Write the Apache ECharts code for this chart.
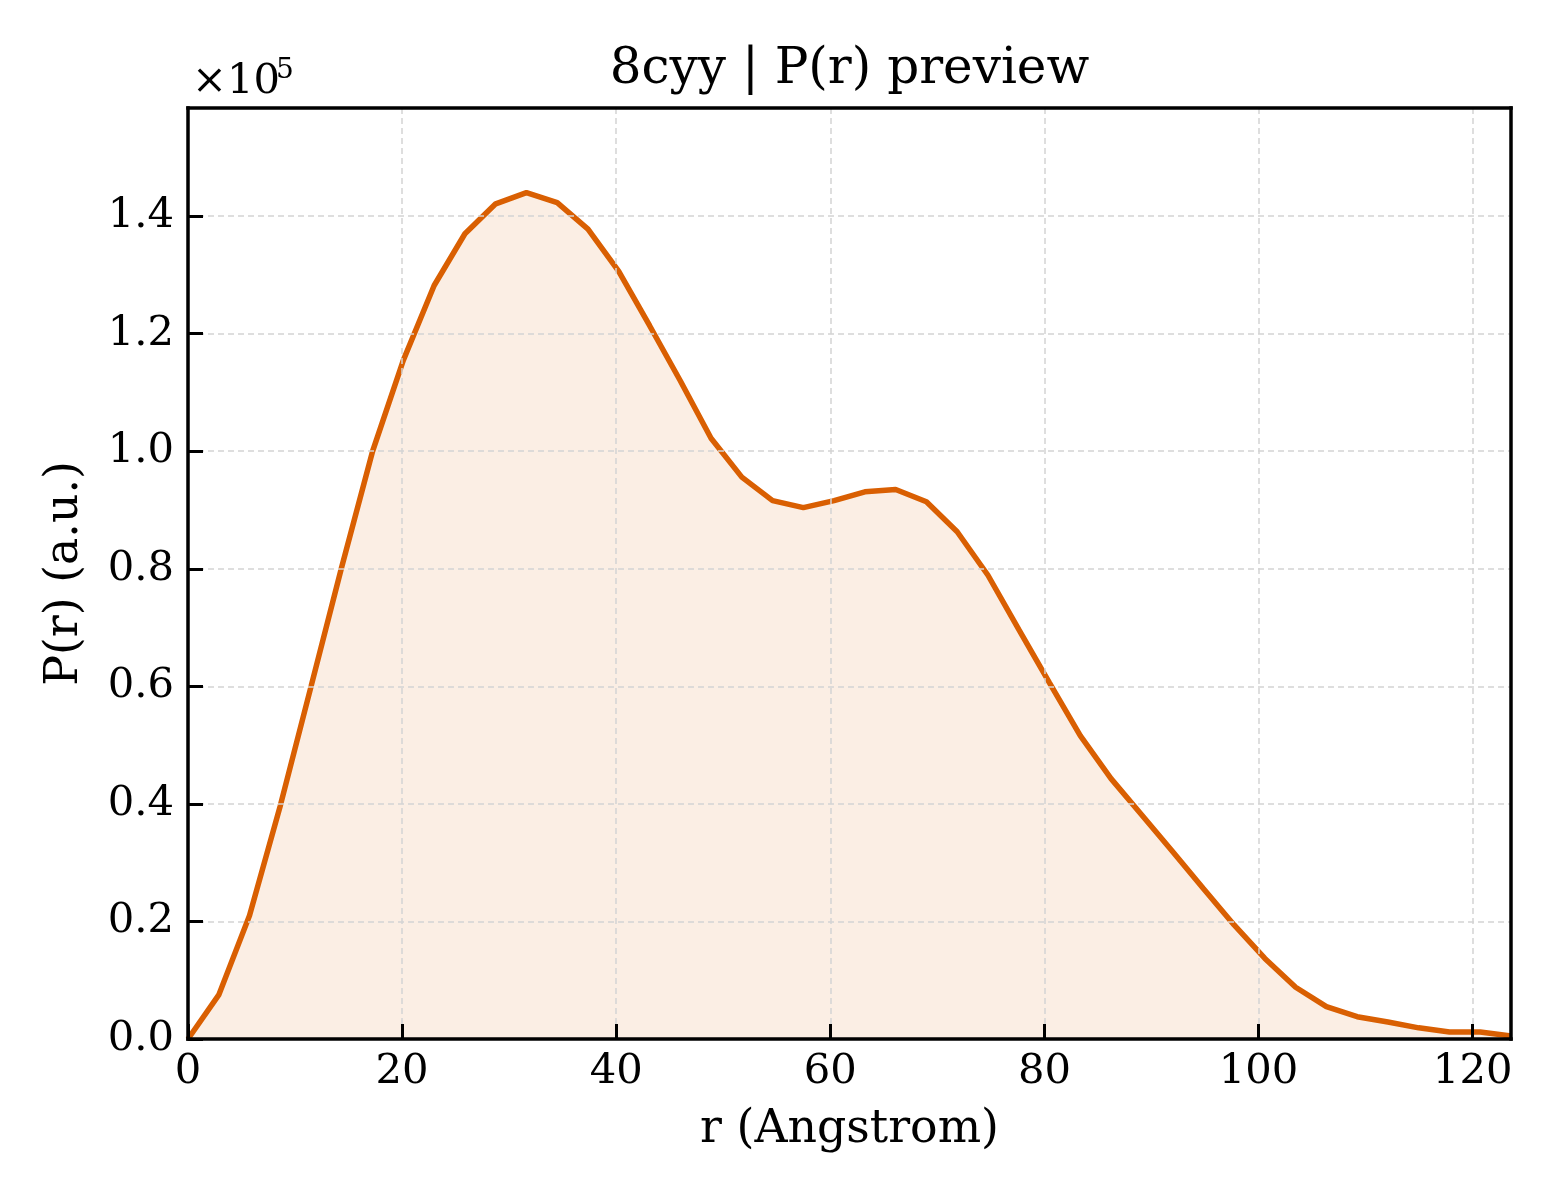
<!DOCTYPE html>
<html>
<head>
<meta charset="utf-8">
<script src="https://cdn.jsdelivr.net/npm/echarts@6/dist/echarts.min.js"></script>
<style>
  html, body { margin: 0; padding: 0; background: #ffffff; }
  #chart { width: 1560px; height: 1200px; }
</style>
</head>
<body>
<div id="chart"></div>
<script>
// r (Angstrom)
const rValues = [0, 2.874, 5.748, 8.622, 11.496, 14.37, 17.244, 20.118, 22.992, 25.866,
  28.74, 31.614, 34.488, 37.362, 40.236, 43.11, 45.984, 48.858, 51.732, 54.606,
  57.48, 60.354, 63.228, 66.102, 68.976, 71.85, 74.724, 77.598, 80.472, 83.346,
  86.22, 89.094, 91.968, 94.842, 97.716, 100.59, 103.464, 106.338, 109.212, 112.086,
  114.96, 117.834, 120.708, 123.582];
// P(r) (a.u.)
const prValues = [0, 7500, 21000, 39700, 60000, 80400, 100000, 115500, 128200, 137000,
  142100, 144000, 142300, 137800, 130600, 121400, 112000, 102200, 95600, 91600,
  90400, 91600, 93100, 93500, 91400, 86300, 78900, 69700, 60600, 51600,
  44300, 38100, 31900, 25600, 19400, 13700, 8800, 5500, 3800, 2900,
  1900, 1200, 1200, 500];
const xTicks = [0, 20, 40, 60, 80, 100, 120];
const yTicks = [0, 20000, 40000, 60000, 80000, 100000, 120000, 140000];
const titleText = '8cyy | P(r) preview';
const xName = 'r (Angstrom)';
const yName = 'P(r) (a.u.)';

const FONT = 'DejaVu Serif';
const chart = echarts.init(document.getElementById('chart'), null, { renderer: 'canvas' });

const seriesData = rValues.map((r, i) => [r, prValues[i]]);
const xMax = rValues[rValues.length - 1];
const yMax = 158400;

const gridLine = { show: true, lineStyle: { color: '#d4d4d4', width: 1.5, type: [6, 4] } };
const spine = { show: true, onZero: false, lineStyle: { color: '#000', width: 3.5, cap: 'square' } };

chart.setOption({
  backgroundColor: '#ffffff',
  animation: false,
  grid: { left: 188, top: 108, right: 49, bottom: 161, show: false },
  xAxis: [{
    type: 'value', min: 0, max: xMax, interval: 20,
    name: xName, nameLocation: 'middle', nameGap: 68,
    nameTextStyle: { fontFamily: FONT, fontSize: 45.8, color: '#000' },
    axisLine: spine,
    axisTick: { show: true, inside: true, length: 15, lineStyle: { color: '#000', width: 3 } },
    axisLabel: {
      fontFamily: FONT, fontSize: 41.7, color: '#000', margin: 12,
      showMaxLabel: false,
      formatter: v => (xTicks.indexOf(v) >= 0 ? String(v) : '')
    },
    splitLine: gridLine,
    z: 5
  }, {
    type: 'value', position: 'top', min: 0, max: xMax, interval: 20,
    axisLine: spine, axisTick: { show: false }, axisLabel: { show: false },
    splitLine: { show: false }, z: 5
  }],
  yAxis: [{
    type: 'value', min: 0, max: yMax, interval: 20000,
    name: yName, nameLocation: 'middle', nameGap: 100, nameRotate: 90,
    nameTextStyle: { fontFamily: FONT, fontSize: 45.8, color: '#000' },
    axisLine: spine,
    axisTick: { show: true, inside: true, length: 15, lineStyle: { color: '#000', width: 3 } },
    axisLabel: {
      fontFamily: FONT, fontSize: 41.7, color: '#000', margin: 14,
      showMaxLabel: false,
      formatter: v => (yTicks.indexOf(v) >= 0 ? (v / 1e5).toFixed(1) : '')
    },
    splitLine: gridLine,
    z: 5
  }, {
    type: 'value', position: 'right', min: 0, max: yMax, interval: 20000,
    axisLine: spine, axisTick: { show: false }, axisLabel: { show: false },
    splitLine: { show: false }, z: 5
  }],
  graphic: [
    { type: 'text', x: 849.5, y: 70, style: {
      text: titleText, font: '50px "DejaVu Serif"', fill: '#000',
      textAlign: 'center', textVerticalAlign: 'middle' } },
    { type: 'text', x: 192, y: 82, style: {
      text: '×10', font: '41.7px "DejaVu Serif"', fill: '#000',
      textAlign: 'left', textVerticalAlign: 'middle' } },
    { type: 'text', x: 276, y: 71, style: {
      text: '5', font: '28px "DejaVu Serif"', fill: '#000',
      textAlign: 'left', textVerticalAlign: 'middle' } }
  ],
  series: [{
    type: 'line',
    xAxisIndex: 0, yAxisIndex: 0,
    data: seriesData,
    symbol: 'none',
    smooth: false,
    lineStyle: { color: '#D95F02', width: 5.5 },
    itemStyle: { color: '#D95F02' },
    areaStyle: { color: 'rgba(217,95,2,0.15)', origin: 'start' },
    z: 3
  }]
});
</script>
</body>
</html>
